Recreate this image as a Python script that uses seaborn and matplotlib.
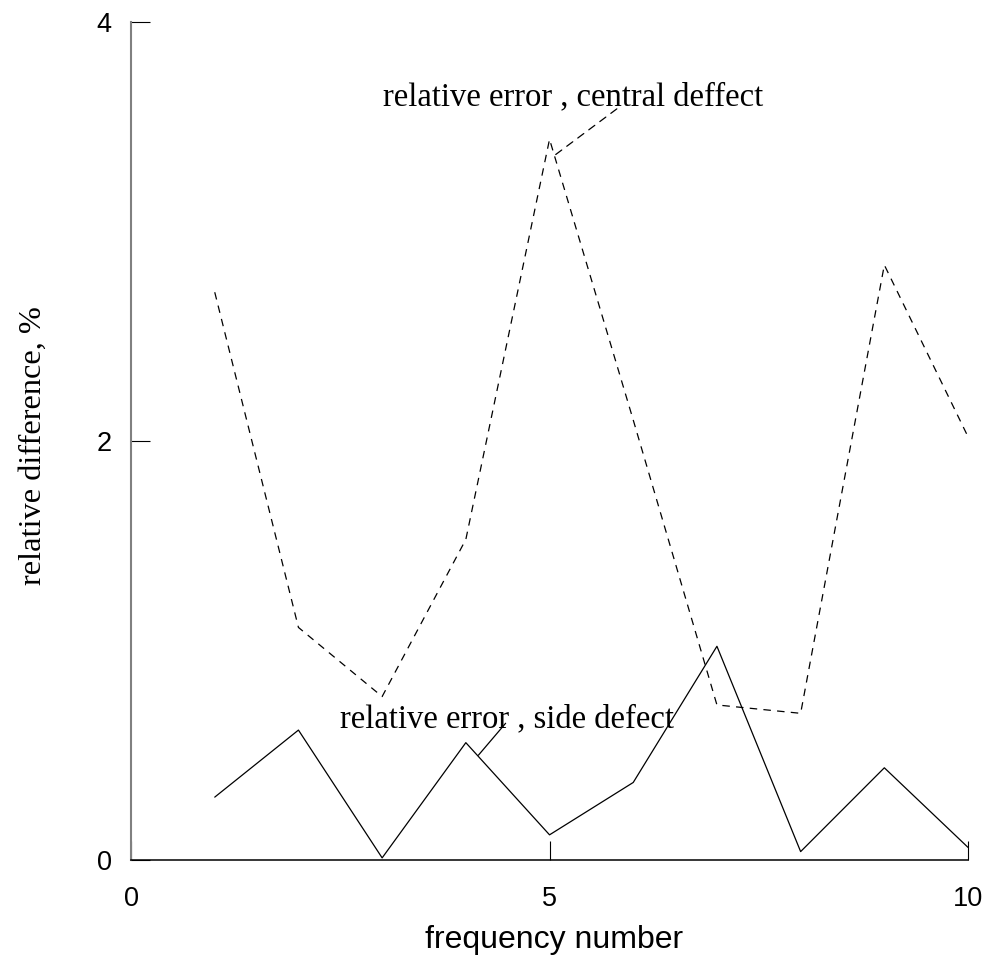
import seaborn as sns
import matplotlib.pyplot as plt
import pandas as pd

freq_number = [1, 2, 3, 4, 5, 6, 7, 8, 9, 10]
central_defect = [2.71, 1.11, 0.78, 1.53, 3.44, 2.10, 0.74, 0.70, 2.84, 2.02]
side_defect = [0.30, 0.62, 0.01, 0.56, 0.12, 0.37, 1.02, 0.04, 0.44, 0.06]
x_ticks = [0, 5, 10]
y_ticks = [0, 2, 4]

df = pd.DataFrame({'freq': freq_number, 'central': central_defect, 'side': side_defect})

sns.set_style('white')
plt.rcParams['font.family'] = ['Liberation Sans', 'DejaVu Sans']
serif = ['Liberation Serif', 'DejaVu Serif']

fig = plt.figure(figsize=(9.89, 9.55), dpi=100)
ax = fig.add_axes([0.1325, 0.0995, 0.8463, 0.8775])

sns.lineplot(data=df, x='freq', y='central', ax=ax, color='black', lw=0.9,
             linestyle=(0, (6, 5)))
sns.lineplot(data=df, x='freq', y='side', ax=ax, color='black', lw=0.9)

ax.set_xlim(0, 10)
ax.set_ylim(0, 4)
ax.set_xticks(x_ticks)
ax.set_yticks(y_ticks)
ax.tick_params(axis='both', direction='in', length=14, width=0.8, color='black',
               labelsize=19.5, labelcolor='black', bottom=True, left=True)
ax.tick_params(axis='x', pad=19)
ax.tick_params(axis='y', pad=14)

for side in ['top', 'right']:
    ax.spines[side].set_visible(False)
ax.spines['left'].set_color('#808080')
ax.spines['left'].set_linewidth(1.5)
ax.spines['bottom'].set_color('black')
ax.spines['bottom'].set_linewidth(1.1)

ax.set_xlabel('frequency number', fontsize=23, color='black')
ax.set_ylabel('relative difference, %', fontsize=23.3, color='black', family=serif)
ax.xaxis.set_label_coords(0.505, -0.078)
ax.yaxis.set_label_coords(-0.1, 0.495)

ax.annotate('relative error , central deffect', xy=(5.066, 3.365),
            xytext=(3.01, 3.604), ha='left', va='baseline', color='black',
            fontsize=23.5, family=serif,
            arrowprops=dict(arrowstyle='-', color='black', lw=0.9,
                            linestyle=(0, (6, 5)), relpos=(0.615, 0.1),
                            patchA=None, shrinkA=0, shrinkB=0))
ax.annotate('relative error , side defect', xy=(4.15, 0.50),
            xytext=(2.50, 0.635), ha='left', va='baseline', color='black',
            fontsize=23.5, family=serif,
            arrowprops=dict(arrowstyle='-', color='black', lw=0.9,
                            relpos=(0.495, 0.35), patchA=None,
                            shrinkA=0, shrinkB=0))

ax.grid(False)
fig.savefig('out.png', dpi=100)
